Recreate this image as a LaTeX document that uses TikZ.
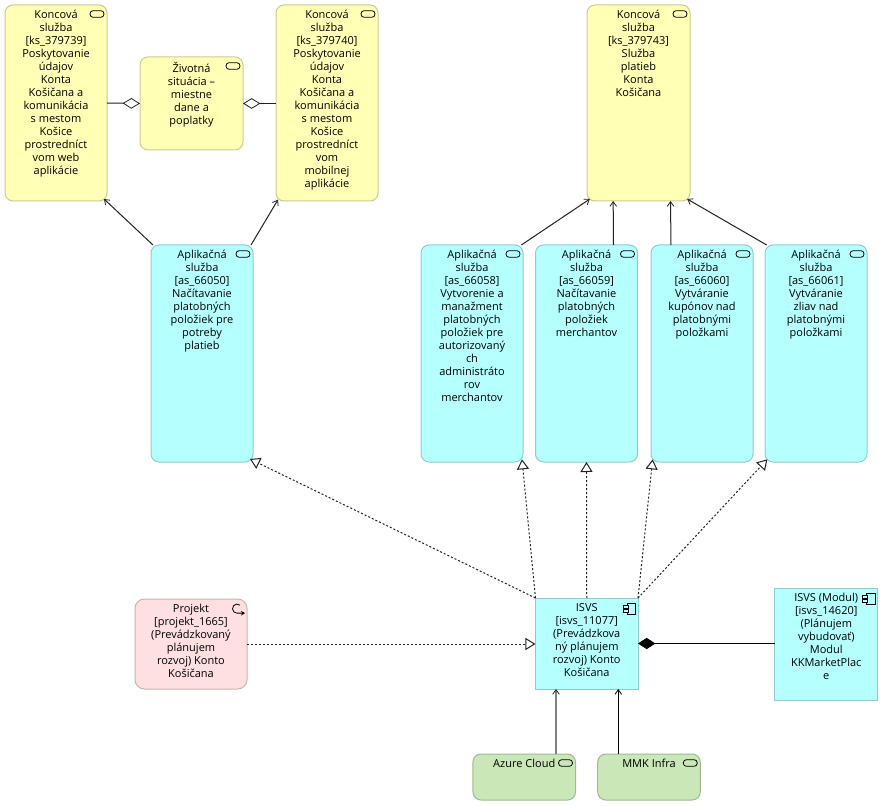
\documentclass[tikz,border=0pt]{standalone}
\usepackage{fontspec}
\setmainfont{Open Sans}
\usetikzlibrary{arrows.meta}
\definecolor{yel}{HTML}{FFFFB5}
\definecolor{yelb}{HTML}{CCCC91}
\definecolor{cya}{HTML}{B5FFFF}
\definecolor{cyab}{HTML}{91CCCC}
\definecolor{pnk}{HTML}{FFE0E0}
\definecolor{pnkb}{HTML}{CCB3B3}
\definecolor{grn}{HTML}{C9E7B7}
\definecolor{grnb}{HTML}{A1B992}
\definecolor{ink}{HTML}{222222}
\tikzset{
  box/.style={draw,line width=0.75pt,inner sep=0pt,outer sep=0pt},
  rbox/.style={box,rounded corners=6pt},
  svcY/.style={rbox,fill=yel,draw=yelb},
  svcC/.style={rbox,fill=cya,draw=cyab},
  svcG/.style={rbox,fill=grn,draw=grnb},
  prj/.style={rbox,fill=pnk,draw=pnkb,rounded corners=7pt},
  cmp/.style={box,fill=cya,draw=cyab},
  lbl/.style={anchor=north,align=center,inner sep=0pt,outer sep=0pt,font=\fontsize{8.25pt}{9.75pt}\selectfont,text=black},
  pill/.style={draw=black,line width=0.6pt,rounded corners=2.4pt,minimum width=10.5pt,minimum height=5pt,inner sep=0pt,outer sep=0pt},
  serving/.style={draw=ink,line width=0.75pt,-{Straight Barb[length=3.5pt,width=5pt,line width=0.6pt]}},
  realize/.style={draw=ink,line width=0.75pt,dash pattern=on 1.5pt off 1.5pt,-{Triangle[open,length=7.5pt,width=9pt,line width=0.75pt,fill=white]}},
  aggr/.style={draw=ink,line width=0.75pt,-{Diamond[open,length=13pt,width=8pt,line width=0.6pt,fill=white]}},
  comp/.style={draw=black,line width=0.75pt,-{Diamond[length=13pt,width=8.5pt]}},
}
\begin{document}
\begin{tikzpicture}[x=0.75pt,y=-0.75pt]
\useasboundingbox (0,0) rectangle (883,806);
\fill[white] (0,0) rectangle (883,806);
% boxes
\node[svcY,minimum width=76.5pt,minimum height=147pt] (k1) at (56,103) {};
\node[svcY,minimum width=77.25pt,minimum height=69.75pt] (zs) at (191.5,103.5) {};
\node[svcY,minimum width=76.5pt,minimum height=147pt] (k2) at (327,103) {};
\node[svcY,minimum width=77.25pt,minimum height=147pt] (k3) at (638.5,103) {};
\node[svcC,minimum width=76.5pt,minimum height=162.75pt] (a50) at (202,353.5) {};
\node[svcC,minimum width=76.5pt,minimum height=162.75pt] (a58) at (472,353.5) {};
\node[svcC,minimum width=76.5pt,minimum height=162.75pt] (a59) at (586.5,353.5) {};
\node[svcC,minimum width=76.5pt,minimum height=162.75pt] (a60) at (702,353.5) {};
\node[svcC,minimum width=76.5pt,minimum height=162.75pt] (a61) at (816,353.5) {};
\node[cmp,minimum width=76.9pt,minimum height=68.25pt] (isvs) at (586.75,643.5) {};
\node[cmp,minimum width=76.9pt,minimum height=84pt] (mod) at (826.25,644) {};
\node[prj,minimum width=84pt,minimum height=67.5pt] (pj) at (191,644) {};
\node[svcG,minimum width=76.9pt,minimum height=34.5pt] (az) at (524.25,777) {};
\node[svcG,minimum width=76.9pt,minimum height=34.5pt] (mm) at (649,777) {};
% labels
\node[lbl] (k1t) at ([yshift=-4pt]k1.north) {Koncová\\služba\\{[ks\_379739]}\\Poskytovanie\\údajov\\Konta\\Košičana a\\komunikácia\\s mestom\\Košice\\prostredníct\\vom web\\aplikácie};
\node[lbl] (zst) at ([yshift=-4pt]zs.north) {Životná\\situácia –\\miestne\\dane a\\poplatky};
\node[lbl] (k2t) at ([yshift=-4pt]k2.north) {Koncová\\služba\\{[ks\_379740]}\\Poskytovanie\\údajov\\Konta\\Košičana a\\komunikácia\\s mestom\\Košice\\prostredníct\\vom\\mobilnej\\aplikácie};
\node[lbl] (k3t) at ([yshift=-4pt]k3.north) {Koncová\\služba\\{[ks\_379743]}\\Služba\\platieb\\Konta\\Košičana};
\node[lbl] (a50t) at ([yshift=-4pt]a50.north) {Aplikačná\\služba\\{[as\_66050]}\\Načítavanie\\platobných\\položiek pre\\potreby\\platieb};
\node[lbl] (a58t) at ([yshift=-4pt]a58.north) {Aplikačná\\služba\\{[as\_66058]}\\Vytvorenie a\\manažment\\platobných\\položiek pre\\autorizovaný\\ch\\administráto\\rov\\merchantov};
\node[lbl] (a59t) at ([yshift=-4pt]a59.north) {Aplikačná\\služba\\{[as\_66059]}\\Načítavanie\\platobných\\položiek\\merchantov};
\node[lbl] (a60t) at ([yshift=-4pt]a60.north) {Aplikačná\\služba\\{[as\_66060]}\\Vytváranie\\kupónov nad\\platobnými\\položkami};
\node[lbl] (a61t) at ([yshift=-4pt]a61.north) {Aplikačná\\služba\\{[as\_66061]}\\Vytváranie\\zliav nad\\platobnými\\položkami};
\node[lbl] (isvst) at ([yshift=-4pt]isvs.north) {ISVS\\{[isvs\_11077]}\\(Prevádzkova\\ný plánujem\\rozvoj) Konto\\Košičana};
\node[lbl] (modt) at ([yshift=-4pt]mod.north) {ISVS (Modul)\\{[isvs\_14620]}\\(Plánujem\\vybudovať)\\Modul\\KKMarketPlac\\e};
\node[lbl] (pjt) at ([yshift=-4pt]pj.north) {Projekt\\{[projekt\_1665]}\\(Prevádzkovaný\\plánujem\\rozvoj) Konto\\Košičana};
\node[lbl] (azt) at ([yshift=-4pt]az.north) {Azure Cloud};
\node[lbl] (mmt) at ([yshift=-4pt]mm.north) {MMK Infra};
% service icons
\foreach \n in {k1,zs,k2,k3,a50,a58,a59,a60,a61,az,mm}{
  \node[pill] (\n i) at ([xshift=-7.5pt,yshift=-6.75pt]\n.north east) {};
}
% project icon
\draw[black,line width=0.6pt,-{Stealth[length=3pt,width=3.5pt]}] ([xshift=-5.3pt,yshift=-4.6pt]pj.north east) arc[start angle=50,end angle=270,radius=3.4pt] -- ++(6pt,0);
% component icons
\foreach \n in {isvs,mod}{
  \draw[black,line width=0.6pt] ([xshift=-8.25pt,yshift=-3.75pt]\n.north east) rectangle ++(6.4pt,-8.25pt);
  \draw[black,line width=0.6pt,fill=cya] ([xshift=-11.25pt,yshift=-5.25pt]\n.north east) rectangle ++(4pt,-2.25pt);
  \draw[black,line width=0.6pt,fill=cya] ([xshift=-11.25pt,yshift=-8.25pt]\n.north east) rectangle ++(4pt,-2.25pt);
}
% connectors
\draw[serving] ([xshift=-36.75pt]a50.north) -- ([xshift=36pt,yshift=1.5pt]k1.south);
\draw[serving] ([xshift=36.75pt]a50.north) -- ([xshift=-36.75pt,yshift=1pt]k2.south);
\draw[serving] ([xshift=37pt]a58.north) -- ([xshift=-36.5pt,yshift=1.5pt]k3.south);
\draw[serving] ([xshift=20.25pt]a59.north) -- ([xshift=-19pt]k3.south);
\draw[serving] ([xshift=-23.25pt]a60.north) -- ([xshift=24pt]k3.south);
\draw[serving] ([xshift=-37pt]a61.north) -- ([xshift=36.5pt,yshift=1.5pt]k3.south);
\draw[realize] (isvs.north west) -- ([xshift=-2.25pt,yshift=2.25pt]a50.south east);
\draw[realize] (isvs.north west) -- ([xshift=37.5pt,yshift=2pt]a58.south);
\draw[realize] (isvs.north) -- (a59.south);
\draw[realize] (isvs.north east) -- ([xshift=-37pt,yshift=2pt]a60.south);
\draw[realize] (isvs.north east) -- ([xshift=-36.5pt,yshift=2pt]a61.south);
\draw[realize] (pj.east) -- (pj.east -| isvs.west);
\draw[comp] (mod.west |- isvs.east) -- (isvs.east);
\draw[aggr] (k1.east) -- (zs.west);
\draw[aggr] (k2.west |- zs.east) -- (zs.east);
\draw[draw=gray,line width=1.4pt,-{Straight Barb[length=3.5pt,width=5pt,line width=0.6pt,color=ink]}] (az.north -| 556,0) -- (isvs.south -| 556,0);
\draw[serving,draw=black] (mm.north -| 618.3,0) -- (isvs.south -| 618.3,0);
\end{tikzpicture}
\end{document}
